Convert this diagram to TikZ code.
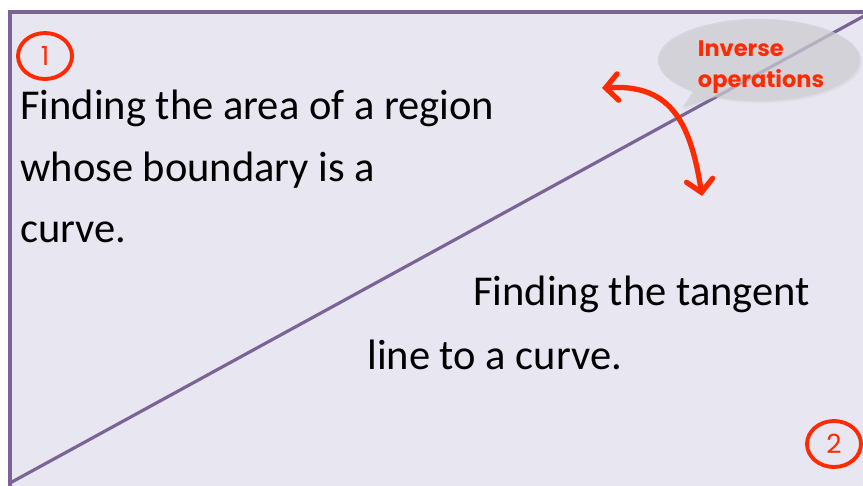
\documentclass[tikz,border=0pt]{standalone}
\usepackage{fontspec}
\setmainfont{Carlito}
\newfontfamily\notefont{Poppins}
\usetikzlibrary{arrows.meta, positioning, calc, shapes.geometric, shapes.callouts, shadows}
\definecolor{slidebg}{RGB}{232, 230, 240}
\definecolor{frameline}{RGB}{122, 100, 150}
\definecolor{markred}{RGB}{255, 42, 0}
\definecolor{bubblegray}{RGB}{208, 206, 212}

\begin{document}
\begin{tikzpicture}[x=0.02cm, y=-0.02cm,
          txt/.style={anchor=west, inner sep=0pt,
                      font=\fontsize{24.2}{29}\selectfont},
          num/.style={ellipse, draw=markred, line width=2.2pt,
                      minimum width=1.08cm, minimum height=0.92cm,
                      inner sep=0pt, text=markred,
                      font=\notefont\fontsize{15}{18}\selectfont},
          flip/.style={draw=markred, line width=3pt, line cap=round,
                       {Straight Barb[length=7pt, width=15pt, line cap=round]}-{Straight Barb[length=7pt, width=15pt, line cap=round]}},
      ]
      \useasboundingbox (0,0) rectangle (863,485);
      \fill[white] (0,0) rectangle (863,485);
      \begin{scope}
      \clip (0,0) rectangle (863,485);
      \draw[fill=slidebg, draw=frameline, line width=2.2pt]
          (10,12) rectangle (890,510);
      \coordinate (lo) at (10,483);
      \coordinate (hi) at (875,10);
      \draw[frameline, line width=1.8pt] (lo) -- (hi);
      % callout bubble
      \node[ellipse callout, fill=bubblegray, fill opacity=0.7,
            minimum width=4.05cm, minimum height=1.65cm,
            callout absolute pointer={(682,108)},
            drop shadow={opacity=0.08, shadow xshift=1pt, shadow yshift=-1pt}] (bubble) at (759,60) {};
      \end{scope}
      \node[num] (one) at (45,56) {1};
      \node[num] (two) at (834,444) {2};
      \node[text=markred, font=\notefont\bfseries\fontsize{12.8}{18}\selectfont,
            align=left, inner sep=0pt] (inv) at (761,67)
          {Inverse\\operations};
      \node[txt] (area1) at (20,108) {Finding the area of a region};
      \node[txt] (area2) at (20,170) {whose boundary is a};
      \node[txt] (area3) at (20,232) {curve.};
      \node[txt] (tan1) at (473,294) {Finding the tangent};
      \node[txt] (tan2) at (367,355) {line to a curve.};
      \coordinate (tipl) at (602,88);
      \coordinate (tipd) at (702,196);
      \draw[flip] (tipl) .. controls (668,84) and (690,118) .. (tipd);
      \end{tikzpicture}
\end{document}
